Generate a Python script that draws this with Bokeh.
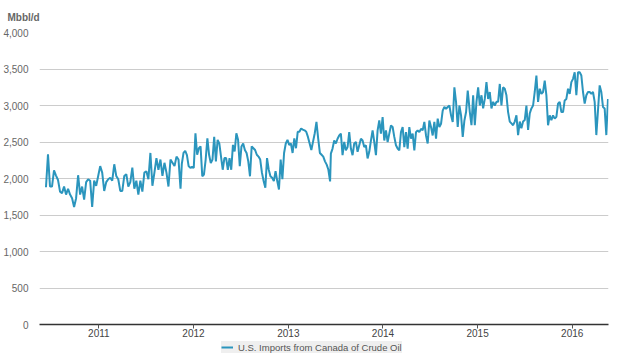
import pandas as pd
from bokeh.plotting import figure
from bokeh.layouts import column
from bokeh.models import (ColumnDataSource, NumeralTickFormatter, SingleIntervalTicker,
                          DatetimeTickFormatter, YearsTicker, Legend, LegendItem, Range1d)
from bokeh.embed import file_html
from bokeh.resources import INLINE

# Weekly U.S. imports from Canada of crude oil (thousand barrels per day)
imports_a = [1880, 2330, 1890, 1890, 2110, 2040, 1980, 1820, 1800, 1890,
             1780, 1860, 1780, 1730, 1610, 1730, 2045, 1780, 1890, 1710,
             1950, 1990, 1970, 1610, 1970, 1900, 2035, 2170, 2080, 1830,
             1950, 1990, 2010, 1970, 2195, 2035, 1990, 1830, 1830, 2035,
             2060, 1890, 1950, 2150, 1860, 1970, 1780, 1970, 1820, 2080,
             2100, 1990, 2350, 1900, 2080, 2280, 2120, 2260, 2035, 2215,
             2080, 1890, 2260, 2215, 2170, 2300, 2260, 1860]
imports_b = [2200, 2350, 2380, 2320,
             2170, 2145, 2160, 2145, 2620, 2325, 2415, 2440, 2030, 2055,
             2260, 2550, 2325, 2210, 2260, 2570, 2235, 2530, 2480, 2300,
             2120, 2280, 2280, 2120, 2280, 2120, 2460, 2370, 2620, 2530,
             2170, 2440, 2480, 2390, 2350, 2235, 2030, 2440, 2415, 2390,
             2325, 2300, 2260, 2080, 1965, 1875, 2280, 2120, 2030, 2010,
             1965, 2100, 1965, 1850, 2260, 1990, 2350, 2480, 2530, 2460,
             2480, 2350, 2550, 2415, 2640, 2640, 2685, 2670, 2660, 2640,
             2570, 2480, 2390, 2505, 2620, 2775, 2550, 2350, 2325, 2300,
             2235, 2190, 2120, 1960]
imports_c = [2340, 2410, 2520, 2480, 2545, 2590, 2615, 2320, 2500, 2385,
             2430, 2635, 2410, 2320, 2480, 2500, 2365, 2455, 2545, 2520,
             2430, 2455, 2275, 2365, 2520, 2660, 2500, 2320, 2660, 2795,
             2615, 2840, 2520, 2660, 2500, 2615, 2725, 2705, 2570, 2455,
             2410, 2385, 2635, 2705, 2430, 2635, 2410, 2705, 2545, 2615,
             2385, 2635, 2660, 2635, 2680, 2660, 2775, 2590, 2480, 2795,
             2705, 2590, 2775, 2545, 2820, 2705, 2750, 2930, 2980, 2955,
             2980, 3000, 2865, 2775, 3250, 3045, 2705, 3000, 2865, 2570,
             2795, 2910, 3205]
imports_d = [2910, 2730, 3140, 2730, 3050, 3250, 3000, 3140, 2960, 3090,
             3320, 3090, 3185, 2960, 3050, 3000, 3050, 3050, 3295, 3000,
             3250, 3230, 3140, 2910, 2780, 2755, 2730, 2780, 2865, 2595,
             2780, 2690, 2780, 2800, 3000, 2665, 2890, 2960, 3000, 3185,
             3410, 3050, 3230, 3160, 3185, 3340, 3140, 2730, 2865, 2800,
             2865, 2820, 2845, 3025, 3050, 2910, 2910, 3070, 3090, 3230,
             3160, 3320, 3365, 3455, 3140, 3455, 3455, 3410, 3185, 3025,
             3140, 3185, 3185, 3160, 3185, 3050, 2595, 2935, 3275, 3185,
             2980, 2960, 2595, 3090]
segment_periods = [("2010-06-11", "2011-11-12"),
                   ("2011-11-17", "2013-06-11"),
                   ("2013-06-14", "2014-11-24"),
                   ("2014-12-02", "2016-05-18")]
segments = [imports_a, imports_b, imports_c, imports_d]

series_name = "U.S. Imports from Canada of Crude Oil"
unit_label = "Mbbl/d"

dates, values = [], []
for (start, end), seg in zip(segment_periods, segments):
    dates.extend(pd.date_range(start, end, periods=len(seg)))
    values.extend(seg)

src = ColumnDataSource(data=dict(date=dates, value=values))

FONT = "Liberation Sans"
LINE_COLOR = "#2b95bd"

p = figure(width=614, height=333, frame_width=569, frame_height=292,
           x_axis_type="datetime", output_backend="svg", toolbar_location=None,
           x_range=Range1d(pd.Timestamp("2010-05-17"), pd.Timestamp("2016-05-20")),
           y_range=Range1d(0, 4000),
           min_border_left=36, min_border_right=9, min_border_top=24, min_border_bottom=0,
           title=unit_label)
p.outline_line_color = None
p.background_fill_color = "white"

p.title.align = "left"
p.title.offset = -32
p.title.standoff = 19
p.title.text_font = FONT
p.title.text_font_size = "10px"
p.title.text_font_style = "bold"
p.title.text_color = "#666666"

p.line("date", "value", source=src, line_color=LINE_COLOR, line_width=2)

p.yaxis.ticker = SingleIntervalTicker(interval=500, num_minor_ticks=0)
p.yaxis.formatter = NumeralTickFormatter(format="0,0")
p.yaxis.axis_line_color = None
p.yaxis.major_tick_line_color = None
p.yaxis.minor_tick_line_color = None
p.yaxis.major_label_standoff = 5
p.yaxis.major_label_text_font = FONT
p.yaxis.major_label_text_font_size = "10px"
p.yaxis.major_label_text_color = "#666666"

p.xaxis.ticker = YearsTicker()
p.xaxis.formatter = DatetimeTickFormatter(years="%Y", months="%Y", days="%Y")
p.xaxis.axis_line_color = "#333333"
p.xaxis.axis_line_width = 1.5
p.xaxis.major_tick_line_color = "#555555"
p.xaxis.major_tick_in = 0
p.xaxis.major_tick_out = 4
p.xaxis.minor_tick_line_color = None
p.xaxis.major_label_standoff = 0
p.xaxis.axis_label = None
p.xaxis.axis_label_standoff = 0
p.xaxis.major_label_text_font = FONT
p.xaxis.major_label_text_font_size = "10px"
p.xaxis.major_label_text_color = "#444444"

p.xgrid.grid_line_color = None
p.ygrid.grid_line_color = "#cccccc"
p.ygrid.grid_line_width = 1

# Legend strip drawn in its own small figure directly under the chart.
# The same series is plotted there but kept outside the strip's visible range,
# so only its legend entry shows.
lg = figure(width=614, height=14, output_backend="svg", toolbar_location=None,
            x_axis_type="datetime", x_axis_location=None, y_axis_location=None,
            x_range=p.x_range, y_range=Range1d(-2, -1),
            min_border_left=0, min_border_right=0, min_border_top=0, min_border_bottom=0)
lg.outline_line_color = None
lg.xgrid.grid_line_color = None
lg.ygrid.grid_line_color = None
r_leg = lg.line("date", "value", source=src, line_color=LINE_COLOR, line_width=2)

legend = Legend(items=[LegendItem(label=series_name, renderers=[r_leg])],
                location=(182, 0), orientation="horizontal",
                background_fill_color="#efefef", background_fill_alpha=1,
                border_line_color=None, label_text_font=FONT,
                label_text_font_size="9.5px", label_text_color="#555555",
                glyph_width=12, glyph_height=10, padding=1, spacing=0,
                label_standoff=5, margin=0, label_height=12)
lg.add_layout(legend)

layout = column(p, lg, spacing=0)

open("out.html", "w").write(file_html(layout, INLINE))
